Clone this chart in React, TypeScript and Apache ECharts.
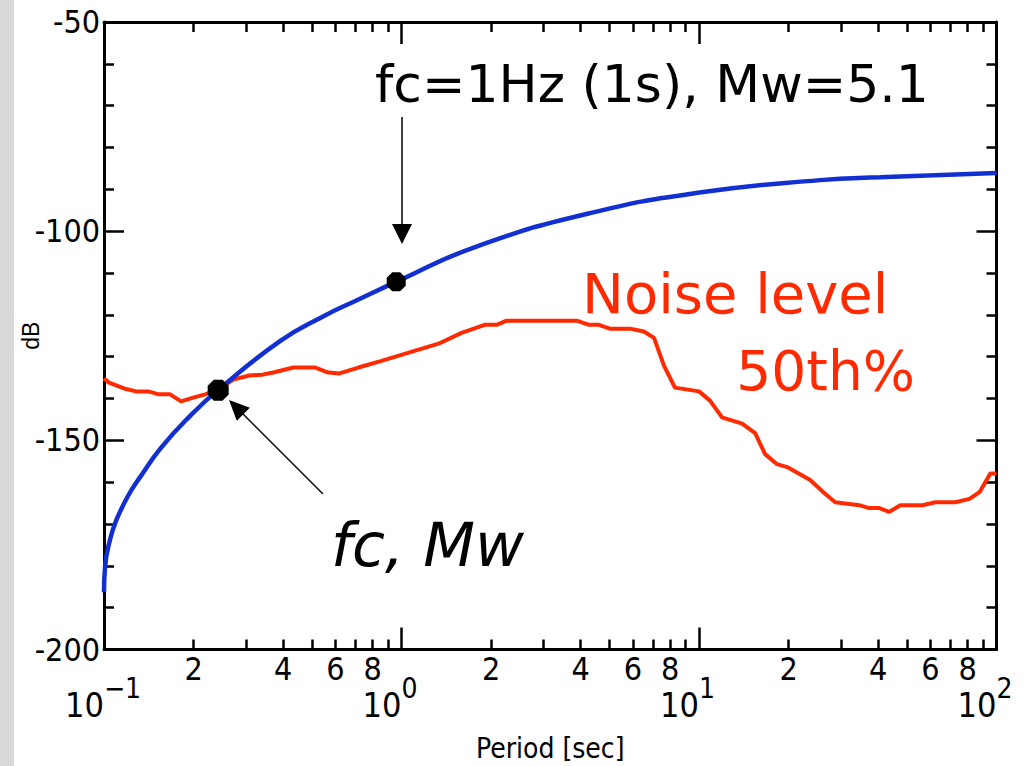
import React, { useEffect, useRef } from 'react';
import * as echarts from 'echarts';

// ---- Data ----
const sourcePeriod = [0.1, 0.1008, 0.1047, 0.1097, 0.1204, 0.1331, 0.1554, 0.1945, 0.2416, 0.3904, 0.541, 0.708, 0.9885, 1.768, 4.3, 10.48, 25.54, 40.58, 100];
const sourceDb = [-186.3, -180.3, -173.8, -169.3, -163.3, -158.5, -151.8, -144.2, -138.0, -126.3, -120.5, -116.5, -111.7, -103.8, -95.7, -90.6, -87.8, -87.1, -86.1];

const noisePeriod = [0.1, 0.1039, 0.1168, 0.1281, 0.1406, 0.1532, 0.1668, 0.1816, 0.1994, 0.2188, 0.242, 0.2718, 0.3077, 0.3404, 0.3707, 0.4329, 0.5133, 0.5678, 0.6183, 0.7165, 0.8566, 1.332, 1.592, 1.903, 2.089, 2.257, 3.884, 4.263, 4.606, 5.014, 5.86, 6.53, 7.06, 7.62, 8.3, 10.0, 10.89, 11.95, 13.96, 15.44, 16.68, 18.3, 19.78, 23.65, 26.36, 28.7, 32.0, 34.57, 37.36, 40.37, 43.62, 47.52, 56.34, 62.32, 72.78, 81.13, 87.68, 95.45, 100];
const noiseDb = [-135.2, -136.2, -137.6, -138.3, -138.3, -139.0, -139.0, -140.7, -139.8, -139.0, -137.9, -135.5, -134.5, -134.3, -133.8, -132.6, -132.6, -133.8, -134.0, -132.6, -131.0, -126.9, -124.3, -122.4, -122.4, -121.4, -121.4, -122.4, -122.4, -123.3, -123.3, -124.0, -125.5, -132.1, -137.4, -138.3, -140.5, -144.5, -146.0, -148.3, -153.3, -155.7, -156.4, -159.5, -162.6, -164.8, -165.2, -165.5, -166.2, -166.2, -167.1, -165.5, -165.5, -164.8, -164.8, -164.0, -162.4, -157.9, -157.9];

const markerPeriod = [0.242, 0.96];
const markerDb = [-138.0, -112.1];
const markerSize = [21, 19];

const xMajorTicks = [0.1, 1, 10, 100];
const xMinorTicks = [0.2, 0.3, 0.4, 0.5, 0.6, 0.7, 0.8, 0.9, 2, 3, 4, 5, 6, 7, 8, 9, 20, 30, 40, 50, 60, 70, 80, 90];
const xMinorLabels = [0.2, 0.4, 0.6, 0.8, 2, 4, 6, 8, 20, 40, 60, 80];
const yMin = -200;
const yMax = -50;
const yInterval = 50;

const annotationMain = 'fc=1Hz (1s), Mw=5.1';
const annotationFc = 'fc, Mw';
const noiseLabel1 = 'Noise level';
const noiseLabel2 = '50th%';
const xName = 'Period [sec]';
const yName = 'dB';

// ---- Styles ----
const AXIS_FONT = '"Liberation Sans Narrow", "DejaVu Sans Condensed", "Liberation Sans", sans-serif';
const ANNO_FONT = '"DejaVu Sans", "Noto Sans", sans-serif';
const BLUE = '#1230d2';
const RED = '#ff2a00';
const OCTAGON = 'path://M-0.414,-1L0.414,-1L1,-0.414L1,0.414L0.414,1L-0.414,1L-1,0.414L-1,-0.414Z';

function leadingDigit(v: number): string {
  const e = Math.floor(Math.log10(v) + 1e-9);
  return String(Math.round(v / Math.pow(10, e)));
}
function decadeBase(): string {
  return '10';
}
function decadeExponent(v: number): string {
  const e = Math.round(Math.log10(v));
  return e < 0 ? '\u2212' + Math.abs(e) : String(e);
}

const tickLine = { color: '#000', width: 2.5 };

function buildOption() {
  const source = sourcePeriod.map((p, i) => [p, sourceDb[i]]);
  const noise = noisePeriod.map((p, i) => [p, noiseDb[i]]);
  const markers = markerPeriod.map((p, i) => ({ value: [p, markerDb[i]], symbolSize: markerSize[i] }));

  const logBase = { type: 'log', min: 0.1, max: 100, logBase: 10, splitLine: { show: false }, minorTick: { show: false }, minorSplitLine: { show: false } };

  return {
    animation: false,
    backgroundColor: '#ffffff',
    grid: { left: 104, top: 22, right: 35.5, bottom: 116.5, containLabel: false, outerBoundsMode: 'none' },
    xAxis: [
      {
        ...logBase,
        position: 'bottom',
        axisLine: { show: true, lineStyle: { color: '#000', width: 3 } },
        axisTick: { show: true, inside: true, length: 22, lineStyle: tickLine, customValues: xMajorTicks },
        axisLabel: {
          show: true,
          customValues: xMajorTicks,
          formatter: decadeBase,
          align: 'right',
          margin: 38,
          fontSize: 34,
          fontFamily: AXIS_FONT,
          color: '#000',
        },
        name: xName,
        nameLocation: 'middle',
        nameGap: 85,
        nameMoveOverlap: false,
        nameTextStyle: { fontSize: 28, fontFamily: AXIS_FONT, color: '#000' },
      },
      {
        ...logBase,
        position: 'bottom',
        axisLine: { show: false },
        axisTick: { show: true, inside: true, length: 10, lineStyle: tickLine, customValues: xMinorTicks },
        axisLabel: { show: true, customValues: xMinorLabels, formatter: leadingDigit, margin: 3, fontSize: 32, fontFamily: AXIS_FONT, color: '#000' },
      },
      {
        ...logBase,
        position: 'top',
        axisLine: { show: true, lineStyle: { color: '#000', width: 3 } },
        axisTick: { show: true, inside: true, length: 22, lineStyle: tickLine, customValues: xMajorTicks },
        axisLabel: { show: false },
      },
      {
        ...logBase,
        position: 'top',
        axisLine: { show: false },
        axisTick: { show: true, inside: true, length: 10, lineStyle: tickLine, customValues: xMinorTicks },
        axisLabel: { show: false },
      },
      {
        ...logBase,
        position: 'bottom',
        axisLine: { show: false },
        axisTick: { show: false },
        axisLabel: {
          show: true,
          customValues: xMajorTicks,
          formatter: decadeExponent,
          align: 'left',
          margin: 25,
          fontSize: 28,
          fontFamily: AXIS_FONT,
          color: '#000',
        },
      },
    ],
    yAxis: [
      {
        type: 'value',
        position: 'left',
        min: yMin,
        max: yMax,
        interval: yInterval,
        axisLine: { show: true, lineStyle: { color: '#000', width: 3 } },
        axisTick: { show: true, inside: true, length: 20, lineStyle: tickLine },
        minorTick: { show: true, splitNumber: 5, length: 10, lineStyle: tickLine },
        splitLine: { show: false },
        minorSplitLine: { show: false },
        axisLabel: { show: true, margin: 4, fontSize: 32, fontFamily: AXIS_FONT, color: '#000' },
        name: yName,
        nameLocation: 'middle',
        nameGap: 62,
        nameMoveOverlap: false,
        nameTextStyle: { fontSize: 23, fontFamily: '"Liberation Sans", "DejaVu Sans", sans-serif', color: '#000' },
      },
      {
        type: 'value',
        position: 'right',
        min: yMin,
        max: yMax,
        interval: yInterval,
        axisLine: { show: true, lineStyle: { color: '#000', width: 3 } },
        axisTick: { show: true, inside: true, length: 20, lineStyle: tickLine },
        minorTick: { show: true, splitNumber: 5, length: 10, lineStyle: tickLine },
        splitLine: { show: false },
        minorSplitLine: { show: false },
        axisLabel: { show: false },
      },
    ],
    series: [
      {
        name: 'Noise level 50th%',
        type: 'line',
        xAxisIndex: 0,
        yAxisIndex: 0,
        data: noise,
        showSymbol: false,
        symbol: 'none',
        lineStyle: { color: RED, width: 4 },
        z: 2,
      },
      {
        name: 'Source spectrum',
        type: 'line',
        xAxisIndex: 0,
        yAxisIndex: 0,
        data: source,
        smooth: 0.5,
        showSymbol: false,
        symbol: 'none',
        lineStyle: { color: BLUE, width: 4.5 },
        z: 3,
      },
      {
        name: 'fc',
        type: 'scatter',
        xAxisIndex: 0,
        yAxisIndex: 0,
        data: markers,
        symbol: OCTAGON,
        itemStyle: { color: '#000', opacity: 1 },
        z: 4,
      },
    ],
    graphic: [
      { type: 'rect', z: -1, silent: true, shape: { x: 0, y: 0, width: 14, height: 766 }, style: { fill: '#d9d9d9' } },
      // arrow to 1 Hz marker
      { type: 'line', shape: { x1: 402, y1: 117, x2: 402, y2: 228 }, style: { stroke: '#000', lineWidth: 1.5 } },
      { type: 'polygon', shape: { points: [[392, 224], [412, 224], [402, 244]] }, style: { fill: '#000' } },
      // arrow to fc marker
      { type: 'line', shape: { x1: 323, y1: 494, x2: 240, y2: 411 }, style: { stroke: '#000', lineWidth: 1.5 } },
      { type: 'polygon', shape: { points: [[229, 400], [249.8, 407.8], [236.8, 420.8]] }, style: { fill: '#000' } },
      {
        type: 'text', x: 375, y: 84,
        style: { text: annotationMain, fill: '#000', fontSize: 52, fontFamily: ANNO_FONT, textAlign: 'left', textVerticalAlign: 'middle' },
      },
      {
        type: 'text', x: 331, y: 545,
        style: { text: annotationFc, fill: '#000', fontSize: 60, fontStyle: 'italic', fontFamily: ANNO_FONT, textAlign: 'left', textVerticalAlign: 'middle' },
      },
      {
        type: 'text', x: 582, y: 293,
        style: { text: noiseLabel1, fill: RED, fontSize: 56, fontFamily: ANNO_FONT, textAlign: 'left', textVerticalAlign: 'middle' },
      },
      {
        type: 'text', x: 915, y: 371,
        style: { text: noiseLabel2, fill: RED, fontSize: 55, fontFamily: ANNO_FONT, textAlign: 'right', textVerticalAlign: 'middle' },
      },
    ],
  };
}

export default function App() {
  const ref = useRef<HTMLDivElement>(null);
  useEffect(() => {
    if (!ref.current) return;
    const chart = echarts.init(ref.current, null, { renderer: 'svg' });
    chart.setOption(buildOption() as any);
    return () => chart.dispose();
  }, []);
  return (
    <div
      ref={ref}
      style={{ position: 'fixed', left: 0, top: 0, width: 1032, height: 766, background: '#fff' }}
    />
  );
}
